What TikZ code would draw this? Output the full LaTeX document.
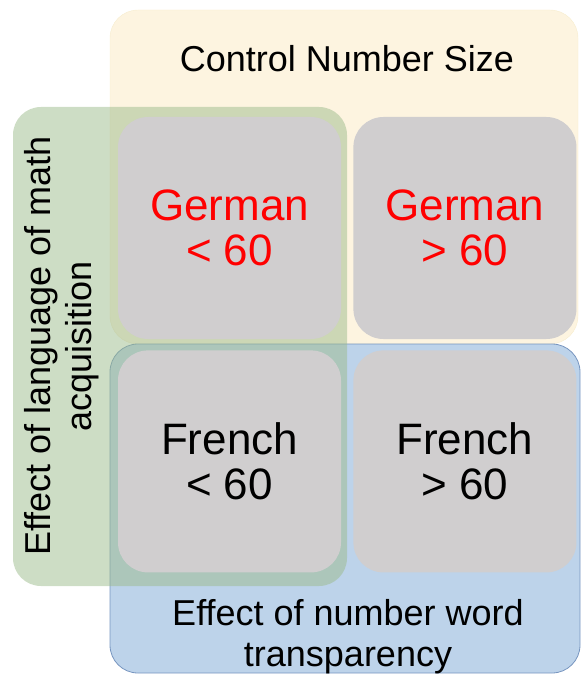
\documentclass[tikz,border=0pt]{standalone}
\usepackage{fontspec}
\setmainfont{Liberation Sans}
\usetikzlibrary{positioning}
\definecolor{sizeyellow}{HTML}{FDF4E0}
\definecolor{sizerim}{HTML}{F7EDCF}
\definecolor{wordblue}{HTML}{BDD3EA}
\definecolor{wordrim}{HTML}{7896C0}
\definecolor{langgreen}{HTML}{9CBB8B}
\definecolor{cellgray}{HTML}{D0CECF}
\definecolor{germanred}{HTML}{FF0000}

\tikzset{
  area/.style={rectangle, rounded corners=28pt, inner sep=0pt},
  cell/.style={rectangle, rounded corners=30pt, fill=cellgray, minimum width=223pt,
    minimum height=222pt, inner sep=0pt, align=center, font=\fontsize{44}{45}\selectfont},
  arealabel/.style={align=center, font=\fontsize{36}{41}\selectfont}
}

\begin{document}
\begin{tikzpicture}[x=1pt, y=-1pt]
\useasboundingbox (0,0) rectangle (581,674);

% the three overlapping factor areas
\node (Size) [area, fill=sizeyellow, draw=sizerim, minimum width=468pt, minimum height=334pt] at (344,177) {};
\node (Word) [area, fill=wordblue, draw=wordrim, line width=0.8pt, minimum width=470pt, minimum height=329pt] at (345,508.5) {};
\node (Lang) [area, fill=langgreen, fill opacity=0.5, minimum width=334pt, minimum height=479pt] at (180,346.5) {};

% the four conditions
\node (GermanLow) [cell, text=germanred] at (229.5,228) {German\\< 60};
\node (GermanHigh) [cell, text=germanred, right=12pt of GermanLow] {German\\> 60};
\node (FrenchLow) [cell, below=11pt of GermanLow] {French\\< 60};
\node (FrenchHigh) [cell, right=12pt of FrenchLow] {French\\> 60};

\node (SizeLabel) [arealabel, anchor=base] at (347,72) {Control Number Size};
\node (LangLabel) [arealabel, rotate=90] at (62,346) {Effect of language of math\\acquisition};
\node (WordLabel) [arealabel] at (348,637) {Effect of number word\\transparency};
\end{tikzpicture}
\end{document}
